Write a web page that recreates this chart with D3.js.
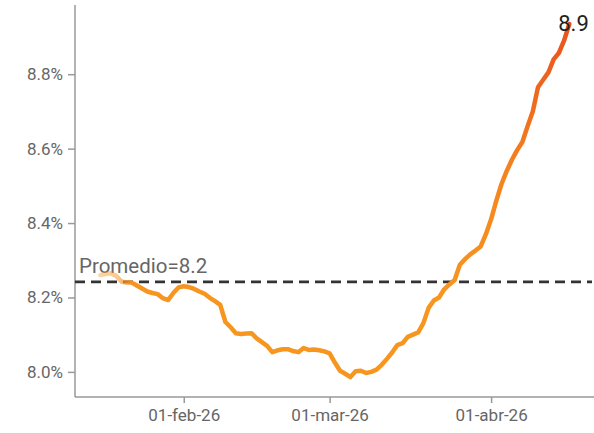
<!DOCTYPE html>
<html>
<head>
<meta charset="utf-8">
<script src="https://cdn.jsdelivr.net/npm/d3@7"></script>
<style>
  html, body { margin: 0; padding: 0; background: #fff; }
  svg { display: block; font-family: Roboto, "Noto Sans", sans-serif; }
</style>
</head>
<body>
<div id="chart"></div>
<script>
// values (rate in %)
const dates = [
  "2026-01-16","2026-01-17","2026-01-18","2026-01-19","2026-01-20","2026-01-21","2026-01-22","2026-01-23",
  "2026-01-24","2026-01-25","2026-01-26","2026-01-27","2026-01-28","2026-01-29","2026-01-30","2026-01-31",
  "2026-02-01","2026-02-02","2026-02-03","2026-02-04","2026-02-05","2026-02-06","2026-02-07","2026-02-08",
  "2026-02-09","2026-02-10","2026-02-11","2026-02-12","2026-02-13","2026-02-14","2026-02-15","2026-02-16",
  "2026-02-17","2026-02-18","2026-02-19","2026-02-20","2026-02-21","2026-02-22","2026-02-23","2026-02-24",
  "2026-02-25","2026-02-26","2026-02-27","2026-02-28","2026-03-01","2026-03-02","2026-03-03","2026-03-04",
  "2026-03-05","2026-03-06","2026-03-07","2026-03-08","2026-03-09","2026-03-10","2026-03-11","2026-03-12",
  "2026-03-13","2026-03-14","2026-03-15","2026-03-16","2026-03-17","2026-03-18","2026-03-19","2026-03-20",
  "2026-03-21","2026-03-22","2026-03-23","2026-03-24","2026-03-25","2026-03-26","2026-03-27","2026-03-28",
  "2026-03-29","2026-03-30","2026-03-31","2026-04-01","2026-04-02","2026-04-03","2026-04-04","2026-04-05",
  "2026-04-06","2026-04-07","2026-04-08","2026-04-09","2026-04-10","2026-04-11","2026-04-12","2026-04-13",
  "2026-04-14","2026-04-15","2026-04-16"
];
const values = [
  8.260,8.263,8.265,8.258,8.243,8.240,8.240,8.232,
  8.224,8.216,8.212,8.209,8.198,8.193,8.212,8.227,
  8.230,8.228,8.223,8.216,8.210,8.199,8.190,8.180,
  8.134,8.120,8.104,8.102,8.103,8.104,8.090,8.080,
  8.070,8.053,8.058,8.061,8.061,8.056,8.053,8.064,
  8.059,8.060,8.058,8.055,8.050,8.025,8.003,7.995,
  7.986,8.002,8.003,7.997,8.000,8.006,8.019,8.035,
  8.052,8.072,8.077,8.094,8.100,8.106,8.131,8.172,
  8.192,8.200,8.222,8.235,8.247,8.288,8.303,8.316,
  8.326,8.337,8.370,8.410,8.460,8.505,8.540,8.570,
  8.596,8.618,8.660,8.700,8.765,8.785,8.805,8.840,
  8.857,8.890,8.935
];
const average = 8.242;
const averageLabel = "Promedio=8.2";
const yTicks = [8.0, 8.2, 8.4, 8.6, 8.8];
const xTicks = ["2026-02-01","2026-03-01","2026-04-01"];
const monthNames = ["ene","feb","mar","abr","may","jun","jul","ago","sep","oct","nov","dic"];

const W = 594, H = 433;
const M = {left: 75, right: 0, top: 5, bottom: 36};

const parse = d3.utcParse("%Y-%m-%d");
const data = dates.map((d, i) => ({date: parse(d), value: values[i]}));
const last = data[data.length - 1];

const x = d3.scaleUtc()
  .domain([new Date(Date.UTC(2026,0,11,3)), new Date(Date.UTC(2026,3,20,18))])
  .range([M.left, W - M.right]);
const y = d3.scaleLinear().domain([7.9325, 8.986]).range([H - M.bottom, M.top]);

const svg = d3.select("#chart").append("svg").attr("width", W).attr("height", H);

const defs = svg.append("defs");
const grad = defs.append("linearGradient").attr("id","lineGrad")
  .attr("gradientUnits","userSpaceOnUse")
  .attr("x1",0).attr("x2",0).attr("y1",y(8.2)).attr("y2",y(8.93));
grad.append("stop").attr("offset","0%").attr("stop-color","#f7961f");
grad.append("stop").attr("offset","45%").attr("stop-color","#f5841f");
grad.append("stop").attr("offset","100%").attr("stop-color","#e8521e");

// light start of the line
const fade = defs.append("linearGradient").attr("id","fadeGrad")
  .attr("gradientUnits","userSpaceOnUse")
  .attr("x1",x(data[0].date)).attr("x2",x(data[6].date)).attr("y1",0).attr("y2",0);
fade.append("stop").attr("offset","0%").attr("stop-color","#fff").attr("stop-opacity",0.4);
fade.append("stop").attr("offset","55%").attr("stop-color","#fff").attr("stop-opacity",0.5);
fade.append("stop").attr("offset","100%").attr("stop-color","#fff").attr("stop-opacity",1);
defs.append("mask").attr("id","fadeMask").attr("maskUnits","userSpaceOnUse")
  .attr("x",0).attr("y",0).attr("width",W).attr("height",H)
  .append("rect").attr("x",0).attr("y",0).attr("width",W).attr("height",H).attr("fill","url(#fadeGrad)");

// axes
const fmtX = d => `${d3.utcFormat("%d")(d)}-${monthNames[d.getUTCMonth()]}-${d3.utcFormat("%y")(d)}`;

const gx = svg.append("g").attr("transform",`translate(0,${H - M.bottom})`)
  .call(d3.axisBottom(x).tickValues(xTicks.map(parse)).tickFormat(fmtX).tickSizeOuter(0).tickSize(6).tickPadding(6));
const gy = svg.append("g").attr("transform",`translate(${M.left},0)`)
  .call(d3.axisLeft(y).tickValues(yTicks).tickFormat(d => d.toFixed(1) + "%").tickSizeOuter(0).tickSize(7).tickPadding(5));

[gx, gy].forEach(g => {
  g.select(".domain").attr("stroke","#999").attr("stroke-width",1.5);
  g.selectAll(".tick line").attr("stroke","#999").attr("stroke-width",1.5);
  g.selectAll(".tick text").attr("fill","#666").style("font-size","17px").style("font-family","Roboto, sans-serif");
});
gx.select(".domain").attr("d", `M${M.left},0H${W}`);
gy.select(".domain").attr("d", `M0,${M.top}V${H - M.bottom}`);

// average line
svg.append("line")
  .attr("x1", M.left).attr("x2", W - 2)
  .attr("y1", y(average)).attr("y2", y(average))
  .attr("stroke","#333").attr("stroke-width",2.6).attr("stroke-dasharray","10,6");
svg.append("text")
  .attr("x", M.left + 4).attr("y", y(average) - 9)
  .attr("fill","#666").style("font-size","20.5px")
  .text(averageLabel);

// series line
const line = d3.line().x(d => x(d.date)).y(d => y(d.value));
svg.append("path").datum(data)
  .attr("d", line)
  .attr("fill","none")
  .attr("stroke","url(#lineGrad)")
  .attr("stroke-width",4.5)
  .attr("stroke-linejoin","round")
  .attr("stroke-linecap","round")
  .attr("mask","url(#fadeMask)");

svg.append("text")
  .attr("x", x(last.date) - 11).attr("y", y(last.value) + 7)
  .attr("fill","#222").style("font-size","22px")
  .text(last.value.toFixed(1));
</script>
</body>
</html>
